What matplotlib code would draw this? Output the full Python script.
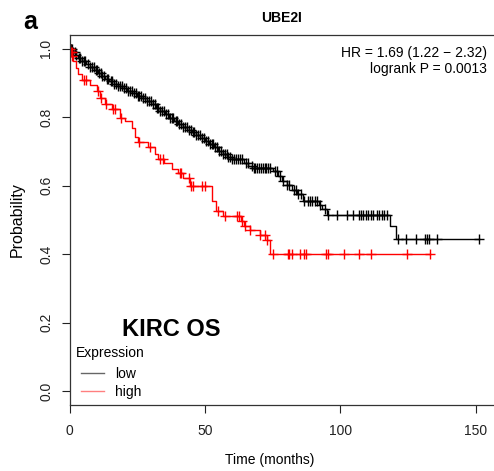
import numpy as np
import matplotlib
matplotlib.use("Agg")
import matplotlib.pyplot as plt
from matplotlib.lines import Line2D

plt.rcParams["font.family"] = ["Liberation Sans", "DejaVu Sans"]

# Kaplan-Meier steps (months, survival probability)
low_time = [0, 1.2, 2.0, 3.1, 4.5, 6.0, 7.4, 9.0, 10.3, 11.5, 13.0, 14.6, 16.2, 17.8,
            19.5, 21.2, 23.0, 24.8, 26.5, 28.4, 30.2, 31.9, 33.5, 35.1, 36.8, 38.5,
            40.1, 41.8, 43.4, 45.0, 46.7, 48.3, 50.0, 51.6, 53.2, 54.9, 56.5, 58.1,
            60.0, 64.5, 66.0, 67.5, 75.0, 76.8, 78.5, 80.2, 82.0, 84.0, 86.0, 92.0,
            93.3, 95.0, 118.4, 120.4]
low_surv = [1.0, 0.99, 0.982, 0.973, 0.964, 0.955, 0.946, 0.937, 0.928, 0.92, 0.912,
            0.905, 0.898, 0.891, 0.884, 0.877, 0.870, 0.862, 0.855, 0.847, 0.838,
            0.828, 0.818, 0.808, 0.799, 0.790, 0.781, 0.772, 0.764, 0.756, 0.748,
            0.740, 0.731, 0.722, 0.712, 0.702, 0.692, 0.684, 0.677, 0.667, 0.657,
            0.651, 0.642, 0.628, 0.615, 0.602, 0.589, 0.577, 0.556, 0.545, 0.531,
            0.516, 0.482, 0.446]
low_end = 151.3
low_censor = [0.2, 0.4, 0.6, 0.9, 1.4, 1.8, 2.5, 3.3, 3.9, 4.6, 5.2, 5.8, 6.8, 7.5, 8.3,
              8.9, 9.6, 10.2, 10.8, 11.4, 12.1, 12.7, 13.6, 14.3, 15.1, 15.8, 16.5,
              17.2, 17.9, 18.6, 19.4, 20.1, 20.8, 21.5, 22.3, 22.9, 23.6, 24.4, 25.1,
              25.7, 26.3, 27.1, 27.8, 28.5, 29.2, 29.9, 30.6, 31.4, 32.1, 32.8, 33.5,
              34.2, 34.9, 35.6, 36.4, 37.0, 37.7, 38.3, 39.1, 39.8, 40.5, 41.2, 41.9,
              42.6, 43.3, 44.0, 44.7, 45.4, 46.1, 46.8, 47.5, 48.2, 48.9, 49.6, 50.3,
              51.0, 51.7, 52.4, 53.1, 53.8, 54.5, 55.2, 55.9, 56.6, 57.3, 58.0, 58.6,
              59.4, 60.1, 60.8, 61.5, 62.2, 62.8, 63.6, 65.2, 65.9, 67.2, 67.9, 68.6,
              69.3, 69.9, 70.6, 71.3, 72.0, 72.7, 73.4, 74.1, 75.7, 76.5, 77.6, 78.8,
              80.2, 81.1, 82.9, 83.6, 84.3, 85.6, 86.7, 87.9, 88.6, 89.4, 90.8, 91.5,
              92.6, 94.3, 95.5, 98.9, 102.3, 104.8, 106.9, 107.6, 108.5, 109.3, 110.1,
              111.3, 112.1, 113.4, 114.3, 115.3, 116.2, 117.1, 121.2, 124.2, 127.9,
              131.3, 132.1, 132.8, 135.8, 151.3]

high_time = [0, 0.4, 0.8, 1.3, 2.2, 3.2, 4.4, 7.5, 10.0, 11.2, 13.0, 15.5, 18.6, 20.4,
             22.9, 24.1, 25.2, 29.0, 31.5, 32.6, 35.0, 37.7, 40.0, 41.9, 44.5, 52.6,
             54.0, 56.6, 63.2, 64.4, 66.6, 70.3, 72.8, 74.0]
high_surv = [1.0, 0.99, 0.98, 0.965, 0.945, 0.927, 0.91, 0.894, 0.876, 0.856, 0.839,
             0.824, 0.797, 0.788, 0.77, 0.742, 0.727, 0.712, 0.692, 0.677, 0.667,
             0.648, 0.638, 0.622, 0.599, 0.555, 0.526, 0.511, 0.497, 0.482, 0.472,
             0.455, 0.443, 0.402]
high_end = 133.1
high_censor = [0.2, 0.5, 0.7, 1.0, 5.4, 6.1, 10.4, 11.6, 13.4, 15.9, 16.6, 19.0, 25.6,
               29.6, 33.3, 34.6, 40.6, 41.3, 44.0, 44.9, 45.5, 48.9, 50.0, 54.9, 57.4,
               61.7, 62.5, 63.6, 64.8, 66.6, 70.3, 72.2, 72.8, 75.2, 80.5, 81.0, 82.2,
               85.1, 86.7, 87.3, 94.7, 95.3, 101.3, 106.9, 111.3, 124.5, 133.1]

W, H = 494, 471


def fx(px):
    return px / W


def fy(py):
    return 1 - py / H


def surv_at(times, surv, t):
    idx = np.searchsorted(times, t, side="right") - 1
    return np.asarray(surv)[idx]


fig = plt.figure(figsize=(W / 100, H / 100), dpi=100)
ax = fig.add_axes([fx(69.7), fy(405), fx(494.7) - fx(69.7), fy(35) - fy(405)])

for times, surv, end, cens, color in [
    (low_time, low_surv, low_end, low_censor, "black"),
    (high_time, high_surv, high_end, high_censor, "#ff0000"),
]:
    t = list(times) + [end]
    s = list(surv) + [surv[-1]]
    ax.step(t, s, where="post", color=color, lw=1.0)
    ax.plot(cens, surv_at(times, surv, np.array(cens)), ls="none", marker="+",
            ms=7, mew=1.0, color=color)

ax.set_xlim(0, 157)
ax.set_ylim(-0.04, 1.04)
ax.set_xticks([0, 50, 100, 150])
ax.set_yticks([0.0, 0.2, 0.4, 0.6, 0.8, 1.0])
ax.set_yticklabels(["0.0", "0.2", "0.4", "0.6", "0.8", "1.0"], rotation=90, va="center")
ax.tick_params(axis="both", direction="out", length=5.5, width=0.8, labelsize=10,
               colors="#222222")
ax.tick_params(axis="x", pad=8.5)
ax.tick_params(axis="y", pad=6.5)
for side in ["left", "bottom", "top"]:
    ax.spines[side].set_linewidth(0.9)
    ax.spines[side].set_color("#333333")
ax.spines["right"].set_visible(False)

fig.text(fx(17.5), fy(220), "Probability", rotation=90, ha="center", va="center",
         fontsize=11.5)
fig.text(fx(270), fy(460), "Time (months)", ha="center", va="center", fontsize=10)
fig.text(fx(282), fy(18), "UBE2I", ha="center", va="center", fontsize=10,
         fontweight="bold")
fig.text(fx(30), fy(22), "a", ha="center", va="center", fontsize=18, fontweight="bold")
fig.text(fx(487), fy(53), "HR = 1.69 (1.22 \u2212 2.32)", ha="right", va="center",
         fontsize=10)
fig.text(fx(487), fy(69), "logrank P = 0.0013", ha="right", va="center", fontsize=10)
fig.text(fx(171.5), fy(329), "KIRC OS", ha="center", va="center", fontsize=17,
         fontweight="bold")

# legend: title on its own, entries indented a little as in R
fig.text(fx(76), fy(353), "Expression", ha="left", va="center", fontsize=10)
handles = [Line2D([], [], color="black", lw=1.0, alpha=0.6),
           Line2D([], [], color="#ff0000", lw=1.0, alpha=0.5)]
ax.legend(handles, ["low", "high"], loc="upper left",
          bbox_to_anchor=(fx(81), fy(367)), bbox_transform=fig.transFigure,
          frameon=False, fontsize=10, handlelength=1.65, handletextpad=0.8,
          labelspacing=0.3, borderpad=0, borderaxespad=0)

fig.savefig("out.png", dpi=100)
